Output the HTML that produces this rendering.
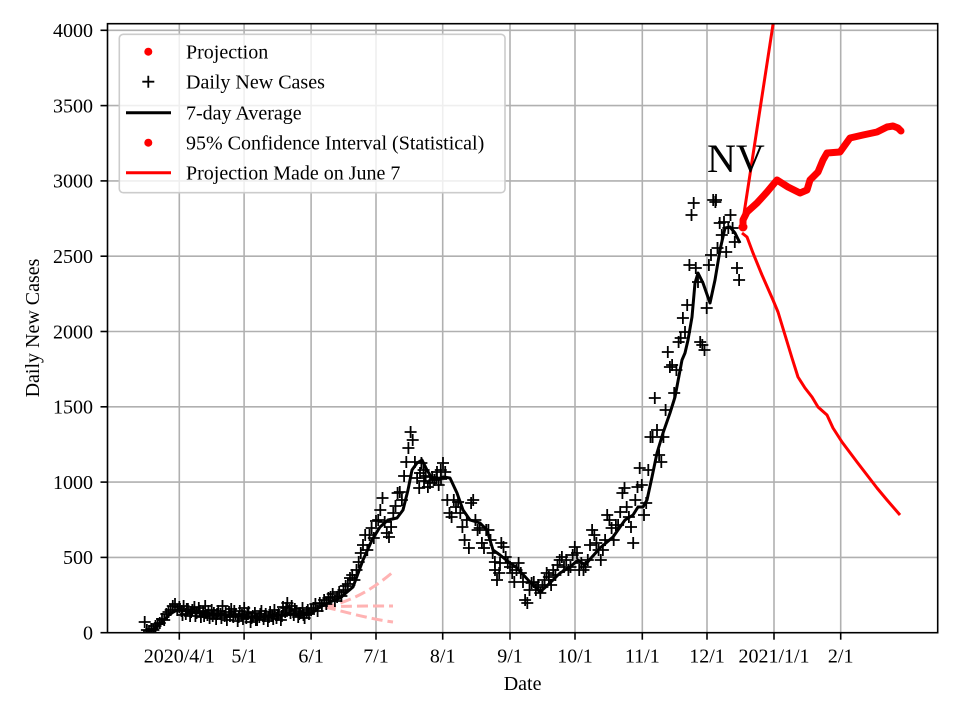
<!DOCTYPE html>
<html><head><meta charset="utf-8"><style>
html,body{margin:0;padding:0;background:#fff;}
svg{display:block;}
text{font-family:"Liberation Serif","DejaVu Serif",serif;fill:#000;}
</style></head><body>
<svg width="960" height="720" viewBox="0 0 960 720" xmlns="http://www.w3.org/2000/svg">
<rect width="960" height="720" fill="#fff"/>
<defs><clipPath id="c"><rect x="107.5" y="23.7" width="830.2" height="609"/></clipPath></defs>
<!-- grid -->
<g stroke="#b0b0b0" stroke-width="1.6">
<line x1="179.3" y1="23.7" x2="179.3" y2="632.7"/><line x1="244.1" y1="23.7" x2="244.1" y2="632.7"/><line x1="311.1" y1="23.7" x2="311.1" y2="632.7"/><line x1="376" y1="23.7" x2="376" y2="632.7"/><line x1="442.7" y1="23.7" x2="442.7" y2="632.7"/><line x1="510" y1="23.7" x2="510" y2="632.7"/><line x1="575" y1="23.7" x2="575" y2="632.7"/><line x1="642.3" y1="23.7" x2="642.3" y2="632.7"/><line x1="707" y1="23.7" x2="707" y2="632.7"/><line x1="774" y1="23.7" x2="774" y2="632.7"/><line x1="840.7" y1="23.7" x2="840.7" y2="632.7"/>
<line x1="107.5" y1="557.4" x2="937.7" y2="557.4"/><line x1="107.5" y1="482.1" x2="937.7" y2="482.1"/><line x1="107.5" y1="406.8" x2="937.7" y2="406.8"/><line x1="107.5" y1="331.5" x2="937.7" y2="331.5"/><line x1="107.5" y1="256.2" x2="937.7" y2="256.2"/><line x1="107.5" y1="180.9" x2="937.7" y2="180.9"/><line x1="107.5" y1="105.6" x2="937.7" y2="105.6"/><line x1="107.5" y1="30.3" x2="937.7" y2="30.3"/>
</g>
<g clip-path="url(#c)">
<!-- pink dashed CI -->
<g fill="none" stroke="#ffb3b3" stroke-width="3" stroke-dasharray="11,5">
<path d="M325 607 C350 602 372 590 393 572"/>
<path d="M325 607 C345 606 370 606 393 606"/>
<path d="M325 607 C345 612 370 619 393 622"/>
</g>
<!-- daily points -->
<path fill="none" stroke="#000" stroke-width="1.8" d="
M144.7 622m-6 0h12m-6-6v12M146.9 630m-6 0h12m-6-6v12M149.0 631m-6 0h12m-6-6v12M151.2 629m-6 0h12m-6-6v12M153.4 630m-6 0h12m-6-6v12M155.5 626m-6 0h12m-6-6v12M157.7 624m-6 0h12m-6-6v12M159.8 623m-6 0h12m-6-6v12M162.0 619m-6 0h12m-6-6v12M164.2 620m-6 0h12m-6-6v12M166.3 614m-6 0h12m-6-6v12M168.5 612m-6 0h12m-6-6v12M170.7 610m-6 0h12m-6-6v12M172.8 606m-6 0h12m-6-6v12M175.0 604m-6 0h12m-6-6v12M177.2 610m-6 0h12m-6-6v12M179.3 607m-6 0h12m-6-6v12
M181.5 611m-6 0h12m-6-6v12M183.6 606m-6 0h12m-6-6v12M185.8 614m-6 0h12m-6-6v12M187.9 609m-6 0h12m-6-6v12M190.1 616m-6 0h12m-6-6v12M192.3 610m-6 0h12m-6-6v12M194.4 607m-6 0h12m-6-6v12M196.6 613m-6 0h12m-6-6v12M198.8 608m-6 0h12m-6-6v12M200.9 617m-6 0h12m-6-6v12M203.1 612m-6 0h12m-6-6v12M205.2 606m-6 0h12m-6-6v12M207.4 615m-6 0h12m-6-6v12M209.6 618m-6 0h12m-6-6v12M211.7 610m-6 0h12m-6-6v12M213.9 613m-6 0h12m-6-6v12M216.1 619m-6 0h12m-6-6v12M218.2 611m-6 0h12m-6-6v12M220.4 614m-6 0h12m-6-6v12M222.5 606m-6 0h12m-6-6v12M224.7 616m-6 0h12m-6-6v12M226.9 620m-6 0h12m-6-6v12M229.0 612m-6 0h12m-6-6v12M231.2 609m-6 0h12m-6-6v12M233.3 617m-6 0h12m-6-6v12M235.5 614m-6 0h12m-6-6v12M237.7 621m-6 0h12m-6-6v12M239.8 611m-6 0h12m-6-6v12M242.0 615m-6 0h12m-6-6v12M244.2 608m-6 0h12m-6-6v12M246.3 618m-6 0h12m-6-6v12M248.5 612m-6 0h12m-6-6v12M250.6 622m-6 0h12m-6-6v12M252.8 616m-6 0h12m-6-6v12M254.9 613m-6 0h12m-6-6v12M257.1 620m-6 0h12m-6-6v12M259.3 617m-6 0h12m-6-6v12M261.4 611m-6 0h12m-6-6v12M263.6 619m-6 0h12m-6-6v12M265.7 614m-6 0h12m-6-6v12M267.9 621m-6 0h12m-6-6v12M270.1 612m-6 0h12m-6-6v12M272.2 616m-6 0h12m-6-6v12M274.4 610m-6 0h12m-6-6v12M276.5 618m-6 0h12m-6-6v12M278.7 614m-6 0h12m-6-6v12M280.9 620m-6 0h12m-6-6v12M283.0 607m-6 0h12m-6-6v12M285.2 612m-6 0h12m-6-6v12M287.3 603m-6 0h12m-6-6v12M289.5 610m-6 0h12m-6-6v12M291.7 606m-6 0h12m-6-6v12M293.8 615m-6 0h12m-6-6v12M296.0 611m-6 0h12m-6-6v12M298.2 617m-6 0h12m-6-6v12M300.3 613m-6 0h12m-6-6v12M302.5 608m-6 0h12m-6-6v12M304.6 618m-6 0h12m-6-6v12M306.8 612m-6 0h12m-6-6v12M309.0 614m-6 0h12m-6-6v12M311.1 610m-6 0h12m-6-6v12
M182.5 615m-6 0h12m-6-6v12M186.8 609m-6 0h12m-6-6v12M191.1 612m-6 0h12m-6-6v12M195.4 616m-6 0h12m-6-6v12M199.8 611m-6 0h12m-6-6v12M204.1 616m-6 0h12m-6-6v12M208.4 611m-6 0h12m-6-6v12M212.7 616m-6 0h12m-6-6v12M217.1 614m-6 0h12m-6-6v12M221.4 618m-6 0h12m-6-6v12M225.7 612m-6 0h12m-6-6v12M230.0 616m-6 0h12m-6-6v12M234.3 611m-6 0h12m-6-6v12M238.7 617m-6 0h12m-6-6v12M243.0 619m-6 0h12m-6-6v12M247.3 614m-6 0h12m-6-6v12M251.6 618m-6 0h12m-6-6v12M255.9 620m-6 0h12m-6-6v12M260.3 614m-6 0h12m-6-6v12M264.6 616m-6 0h12m-6-6v12M268.9 617m-6 0h12m-6-6v12M273.2 619m-6 0h12m-6-6v12M277.5 615m-6 0h12m-6-6v12M281.9 616m-6 0h12m-6-6v12M286.2 608m-6 0h12m-6-6v12M290.5 613m-6 0h12m-6-6v12M294.8 609m-6 0h12m-6-6v12M299.2 614m-6 0h12m-6-6v12M303.5 615m-6 0h12m-6-6v12M307.8 610m-6 0h12m-6-6v12
M313.3 608m-6 0h12m-6-6v12M315.4 604m-6 0h12m-6-6v12M317.6 611m-6 0h12m-6-6v12M319.8 603m-6 0h12m-6-6v12M321.9 606m-6 0h12m-6-6v12M324.1 600m-6 0h12m-6-6v12M326.3 604m-6 0h12m-6-6v12M328.4 598m-6 0h12m-6-6v12M330.6 597m-6 0h12m-6-6v12M332.7 594m-6 0h12m-6-6v12M334.9 601m-6 0h12m-6-6v12M337.1 597m-6 0h12m-6-6v12M339.2 592m-6 0h12m-6-6v12M341.4 596m-6 0h12m-6-6v12M343.5 590m-6 0h12m-6-6v12M345.7 586m-6 0h12m-6-6v12M347.9 584m-6 0h12m-6-6v12M350.0 578m-6 0h12m-6-6v12M352.2 575m-6 0h12m-6-6v12M354.4 580m-6 0h12m-6-6v12M356.5 570m-6 0h12m-6-6v12M358.7 562m-6 0h12m-6-6v12M360.8 553m-6 0h12m-6-6v12M363.0 545m-6 0h12m-6-6v12M365.2 535m-6 0h12m-6-6v12M367.3 550m-6 0h12m-6-6v12M369.5 535m-6 0h12m-6-6v12M371.6 528m-6 0h12m-6-6v12M373.8 538m-6 0h12m-6-6v12M376.0 521m-6 0h12m-6-6v12
M378.2 520m-6 0h12m-6-6v12M380.3 510m-6 0h12m-6-6v12M382.5 498m-6 0h12m-6-6v12M384.7 522m-6 0h12m-6-6v12M386.8 533m-6 0h12m-6-6v12M389.0 537m-6 0h12m-6-6v12M391.1 527m-6 0h12m-6-6v12M393.3 513m-6 0h12m-6-6v12M395.5 506m-6 0h12m-6-6v12M397.6 493m-6 0h12m-6-6v12M399.8 492m-6 0h12m-6-6v12M401.9 500m-6 0h12m-6-6v12M404.1 476m-6 0h12m-6-6v12M406.3 462m-6 0h12m-6-6v12M408.4 448m-6 0h12m-6-6v12M410.6 432m-6 0h12m-6-6v12M412.7 440m-6 0h12m-6-6v12M414.9 462m-6 0h12m-6-6v12M417.1 478m-6 0h12m-6-6v12M419.2 488m-6 0h12m-6-6v12M421.4 463m-6 0h12m-6-6v12M423.6 470m-6 0h12m-6-6v12M425.7 476m-6 0h12m-6-6v12M427.9 487m-6 0h12m-6-6v12M430.0 483m-6 0h12m-6-6v12M432.2 477m-6 0h12m-6-6v12M434.4 480m-6 0h12m-6-6v12M436.5 478m-6 0h12m-6-6v12M438.7 485m-6 0h12m-6-6v12M440.8 470m-6 0h12m-6-6v12M443.0 463m-6 0h12m-6-6v12M420 473m-6 0h12m-6-6v12M424 481m-6 0h12m-6-6v12M437 472m-6 0h12m-6-6v12M441 479m-6 0h12m-6-6v12
M445.2 472m-6 0h12m-6-6v12M447.3 500m-6 0h12m-6-6v12M449.5 513m-6 0h12m-6-6v12M451.6 517m-6 0h12m-6-6v12M453.8 500m-6 0h12m-6-6v12M456.0 507m-6 0h12m-6-6v12M458.1 502m-6 0h12m-6-6v12M460.3 513m-6 0h12m-6-6v12M462.4 527m-6 0h12m-6-6v12M464.6 540m-6 0h12m-6-6v12M466.8 520m-6 0h12m-6-6v12M468.9 548m-6 0h12m-6-6v12M471.1 503m-6 0h12m-6-6v12M473.2 500m-6 0h12m-6-6v12M475.4 520m-6 0h12m-6-6v12M477.6 530m-6 0h12m-6-6v12M479.7 528m-6 0h12m-6-6v12M481.9 543m-6 0h12m-6-6v12M484.0 548m-6 0h12m-6-6v12M486.2 530m-6 0h12m-6-6v12M488.4 530m-6 0h12m-6-6v12M490.5 540m-6 0h12m-6-6v12M492.7 553m-6 0h12m-6-6v12M494.9 562m-6 0h12m-6-6v12M497.0 580m-6 0h12m-6-6v12M499.2 573m-6 0h12m-6-6v12M501.3 543m-6 0h12m-6-6v12M503.5 547m-6 0h12m-6-6v12M505.7 557m-6 0h12m-6-6v12M507.8 563m-6 0h12m-6-6v12M510.0 567m-6 0h12m-6-6v12M495 570m-6 0h12m-6-6v12M500 563m-6 0h12m-6-6v12
M512.2 573m-6 0h12m-6-6v12M514.3 582m-6 0h12m-6-6v12M516.5 570m-6 0h12m-6-6v12M518.6 563m-6 0h12m-6-6v12M520.8 573m-6 0h12m-6-6v12M523.0 582m-6 0h12m-6-6v12M525.1 600m-6 0h12m-6-6v12M527.3 603m-6 0h12m-6-6v12M529.5 590m-6 0h12m-6-6v12M531.6 583m-6 0h12m-6-6v12M533.8 582m-6 0h12m-6-6v12M535.9 590m-6 0h12m-6-6v12M538.1 585m-6 0h12m-6-6v12M540.3 593m-6 0h12m-6-6v12M542.4 587m-6 0h12m-6-6v12M544.6 580m-6 0h12m-6-6v12M546.7 573m-6 0h12m-6-6v12M548.9 577m-6 0h12m-6-6v12M551.1 585m-6 0h12m-6-6v12M553.2 570m-6 0h12m-6-6v12M555.4 575m-6 0h12m-6-6v12M557.5 565m-6 0h12m-6-6v12M559.7 560m-6 0h12m-6-6v12M561.9 557m-6 0h12m-6-6v12M564.0 567m-6 0h12m-6-6v12M566.2 560m-6 0h12m-6-6v12M568.4 570m-6 0h12m-6-6v12M570.5 567m-6 0h12m-6-6v12M572.7 555m-6 0h12m-6-6v12M574.8 547m-6 0h12m-6-6v12
M577.0 553m-6 0h12m-6-6v12M579.2 570m-6 0h12m-6-6v12M581.3 563m-6 0h12m-6-6v12M583.5 570m-6 0h12m-6-6v12M585.6 567m-6 0h12m-6-6v12M587.8 560m-6 0h12m-6-6v12M590.0 545m-6 0h12m-6-6v12M592.1 530m-6 0h12m-6-6v12M594.3 535m-6 0h12m-6-6v12M596.4 543m-6 0h12m-6-6v12M598.6 550m-6 0h12m-6-6v12M600.8 560m-6 0h12m-6-6v12M602.9 550m-6 0h12m-6-6v12M605.1 540m-6 0h12m-6-6v12M607.2 515m-6 0h12m-6-6v12M609.4 520m-6 0h12m-6-6v12M611.6 528m-6 0h12m-6-6v12M613.7 540m-6 0h12m-6-6v12M615.9 525m-6 0h12m-6-6v12M618.1 525m-6 0h12m-6-6v12M620.2 512m-6 0h12m-6-6v12M622.4 493m-6 0h12m-6-6v12M624.5 488m-6 0h12m-6-6v12M626.7 507m-6 0h12m-6-6v12M628.9 517m-6 0h12m-6-6v12M631.0 527m-6 0h12m-6-6v12M633.2 543m-6 0h12m-6-6v12M635.3 500m-6 0h12m-6-6v12M637.5 487m-6 0h12m-6-6v12M639.7 468m-6 0h12m-6-6v12M641.8 485m-6 0h12m-6-6v12
M644.0 515m-6 0h12m-6-6v12M646.2 503m-6 0h12m-6-6v12M648.3 470m-6 0h12m-6-6v12M650.5 437m-6 0h12m-6-6v12M652.6 437m-6 0h12m-6-6v12M654.8 398m-6 0h12m-6-6v12M657.0 430m-6 0h12m-6-6v12M659.1 455m-6 0h12m-6-6v12M661.3 462m-6 0h12m-6-6v12M663.4 437m-6 0h12m-6-6v12M665.6 410m-6 0h12m-6-6v12M667.8 352m-6 0h12m-6-6v12M669.9 367m-6 0h12m-6-6v12M672.1 365m-6 0h12m-6-6v12M674.2 393m-6 0h12m-6-6v12M676.4 370m-6 0h12m-6-6v12M678.6 342m-6 0h12m-6-6v12M680.7 338m-6 0h12m-6-6v12M682.9 318m-6 0h12m-6-6v12M685.0 332m-6 0h12m-6-6v12M687.2 305m-6 0h12m-6-6v12M689.4 265m-6 0h12m-6-6v12M691.5 215m-6 0h12m-6-6v12M693.7 203m-6 0h12m-6-6v12M695.8 268m-6 0h12m-6-6v12M698.0 282m-6 0h12m-6-6v12M700.2 342m-6 0h12m-6-6v12M702.3 345m-6 0h12m-6-6v12M704.5 350m-6 0h12m-6-6v12M706.7 308m-6 0h12m-6-6v12
M708.9 265m-6 0h12m-6-6v12M711.0 255m-6 0h12m-6-6v12M713.2 200m-6 0h12m-6-6v12M715.4 202m-6 0h12m-6-6v12M717.5 248m-6 0h12m-6-6v12M719.7 223m-6 0h12m-6-6v12M721.8 235m-6 0h12m-6-6v12M724.0 222m-6 0h12m-6-6v12M726.2 252m-6 0h12m-6-6v12M728.3 228m-6 0h12m-6-6v12M730.5 215m-6 0h12m-6-6v12M732.6 228m-6 0h12m-6-6v12M734.8 242m-6 0h12m-6-6v12M737.0 268m-6 0h12m-6-6v12M739.1 280m-6 0h12m-6-6v12M716 200m-6 0h12m-6-6v12"/>
<!-- 7-day average -->
<polyline fill="none" stroke="#000" stroke-width="3" stroke-linejoin="round" points="148,631 155,628 162,622 170,614 179,609 190,612 200,613 210,614 220,614 230,615 240,616 250,617 260,617 270,616 280,615 290,614 300,615 311,614 320,607 330,602 340,598 353,587 363,560 372,540 380,527 388,520 397,518 403,510 408,490 412,470 417,463 422,460 427,470 433,480 443,477 450,478 457,493 463,510 470,520 480,523 487,530 493,550 500,555 510,563 517,568 530,582 540,592 550,583 560,573 570,567 578,560 585,565 592,557 600,548 613,537 625,520 633,515 638,507 643,507 647,500 652,477 657,453 663,433 670,413 675,397 682,360 685,353 688,340 692,317 695,283 698,273 703,283 710,303 715,280 720,250 725,228 730,227 735,233 740,243"/>
<!-- projection lines -->
<g fill="none" stroke="#ff0000" stroke-width="3" stroke-linejoin="round">
<polyline points="742.7,222 776,5"/>
<polyline points="742,233 747,237 753,253 762,275 773,300 778,312 785,335 792,358 798,377 805,388 812,397 818,407 827,415 833,428 842,442 848,450 857,462 867,475 877,488 887,500 900,515"/>
</g>
<polyline fill="none" stroke="#ff0000" stroke-width="7" stroke-linejoin="round" stroke-linecap="round" points="743,227 743,220 747,212 757,203 767,192 777,180 788,187 800,193 807,190 810,180 818,172 823,160 827,153 840,152 845,145 850,138 863,135 877,132 887,127 893,126 898,128 901,131"/>
<circle cx="743" cy="227" r="4.5" fill="#ff0000"/>
</g>
<!-- title -->
<text x="707" y="172" font-size="40">NV</text>
<!-- spines -->
<rect x="107.5" y="23.7" width="830.2" height="609" fill="none" stroke="#000" stroke-width="1.6"/>
<!-- ticks -->
<g stroke="#000" stroke-width="1.6">
<line x1="179.3" y1="632.7" x2="179.3" y2="639.7"/><line x1="244.1" y1="632.7" x2="244.1" y2="639.7"/><line x1="311.1" y1="632.7" x2="311.1" y2="639.7"/><line x1="376" y1="632.7" x2="376" y2="639.7"/><line x1="442.7" y1="632.7" x2="442.7" y2="639.7"/><line x1="510" y1="632.7" x2="510" y2="639.7"/><line x1="575" y1="632.7" x2="575" y2="639.7"/><line x1="642.3" y1="632.7" x2="642.3" y2="639.7"/><line x1="707" y1="632.7" x2="707" y2="639.7"/><line x1="774" y1="632.7" x2="774" y2="639.7"/><line x1="840.7" y1="632.7" x2="840.7" y2="639.7"/>
<line x1="100.5" y1="632.7" x2="107.5" y2="632.7"/><line x1="100.5" y1="557.4" x2="107.5" y2="557.4"/><line x1="100.5" y1="482.1" x2="107.5" y2="482.1"/><line x1="100.5" y1="406.8" x2="107.5" y2="406.8"/><line x1="100.5" y1="331.5" x2="107.5" y2="331.5"/><line x1="100.5" y1="256.2" x2="107.5" y2="256.2"/><line x1="100.5" y1="180.9" x2="107.5" y2="180.9"/><line x1="100.5" y1="105.6" x2="107.5" y2="105.6"/><line x1="100.5" y1="30.3" x2="107.5" y2="30.3"/>
</g>
<g font-size="20" text-anchor="middle">
<text x="179.3" y="662.5">2020/4/1</text><text x="244.1" y="662.5">5/1</text><text x="311.1" y="662.5">6/1</text><text x="376" y="662.5">7/1</text><text x="442.7" y="662.5">8/1</text><text x="510" y="662.5">9/1</text><text x="575" y="662.5">10/1</text><text x="642.3" y="662.5">11/1</text><text x="707" y="662.5">12/1</text><text x="774" y="662.5">2021/1/1</text><text x="840.7" y="662.5">2/1</text>
<text x="522.6" y="690">Date</text>
<text transform="translate(39,328) rotate(-90)">Daily New Cases</text>
</g>
<g font-size="20" text-anchor="end">
<text x="93" y="639.5">0</text><text x="93" y="564.2">500</text><text x="93" y="488.9">1000</text><text x="93" y="413.6">1500</text><text x="93" y="338.3">2000</text><text x="93" y="263">2500</text><text x="93" y="187.7">3000</text><text x="93" y="112.4">3500</text><text x="93" y="37.1">4000</text>
</g>
<!-- legend -->
<rect x="119.3" y="34.3" width="385.7" height="158.4" rx="4" fill="#fff" fill-opacity="0.8" stroke="#cccccc" stroke-width="1.6"/>
<circle cx="148.3" cy="51.7" r="4" fill="#ff0000"/>
<path d="M142.3 81.7h12M148.3 75.7v12" stroke="#000" stroke-width="1.8"/>
<line x1="126" y1="112.7" x2="171" y2="112.7" stroke="#000" stroke-width="3"/>
<circle cx="148.3" cy="142.7" r="4" fill="#ff0000"/>
<line x1="126" y1="172.7" x2="171" y2="172.7" stroke="#ff0000" stroke-width="3"/>
<g font-size="20">
<text x="186" y="58.4">Projection</text>
<text x="186" y="88.4">Daily New Cases</text>
<text x="186" y="119.4">7-day Average</text>
<text x="186" y="149.4">95% Confidence Interval (Statistical)</text>
<text x="186" y="179.4">Projection Made on June 7</text>
</g>
</svg>
</body></html>
